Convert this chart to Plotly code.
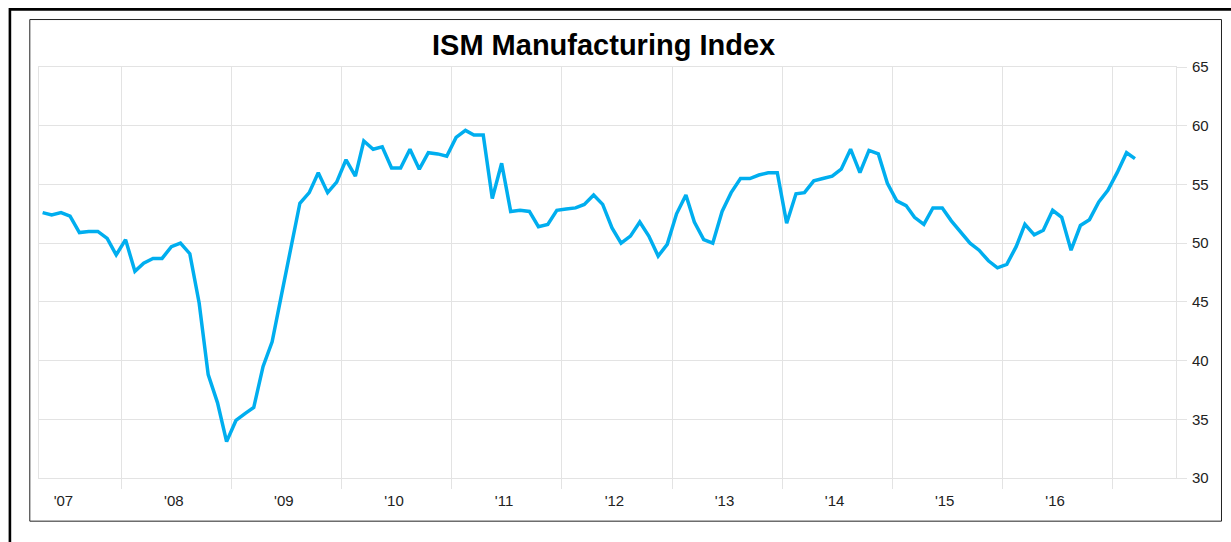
import plotly.graph_objects as go

# ---- data (monthly ISM Manufacturing Index, Apr 2007 - Mar 2017) ----
start_year = 2007
start_month = 4
ism_values = [
    # 2007 Apr-Dec
    52.6, 52.4, 52.6, 52.3, 50.9, 51.0, 51.0, 50.4, 49.0,
    # 2008
    50.3, 47.6, 48.3, 48.7, 48.7, 49.7, 50.0, 49.1, 44.9, 38.8, 36.4, 33.1,
    # 2009
    34.9, 35.5, 36.0, 39.5, 41.6, 45.6, 49.6, 53.4, 54.3, 56.0, 54.3, 55.2,
    # 2010
    57.1, 55.7, 58.7, 58.0, 58.2, 56.4, 56.4, 58.0, 56.3, 57.7, 57.6, 57.4,
    # 2011
    59.0, 59.6, 59.2, 59.2, 53.8, 56.8, 52.7, 52.8, 52.7, 51.4, 51.6, 52.8,
    # 2012
    52.9, 53.0, 53.3, 54.1, 53.3, 51.3, 50.0, 50.6, 51.8, 50.6, 48.9, 49.9,
    # 2013
    52.5, 54.1, 51.8, 50.3, 50.0, 52.7, 54.3, 55.5, 55.5, 55.8, 56.0, 56.0,
    # 2014
    51.7, 54.2, 54.3, 55.3, 55.5, 55.7, 56.3, 58.0, 56.0, 57.9, 57.6, 55.1,
    # 2015
    53.6, 53.2, 52.2, 51.6, 53.0, 53.0, 51.9, 50.9, 50.0, 49.4, 48.5, 47.9,
    # 2016
    48.2, 49.7, 51.6, 50.7, 51.1, 52.8, 52.2, 49.4, 51.5, 52.0, 53.5, 54.5,
    # 2017 Jan-Mar
    56.0, 57.7, 57.2,
]

# month dates (plotted mid-month)
dates = []
y, m = start_year, start_month
for _ in ism_values:
    dates.append(f"{y:04d}-{m:02d}-15")
    m += 1
    if m > 12:
        m = 1
        y += 1

year_labels = ["'07", "'08", "'09", "'10", "'11", "'12", "'13", "'14", "'15", "'16"]
label_years = list(range(2007, 2017))
grid_years = list(range(2008, 2018))
y_ticks = [30, 35, 40, 45, 50, 55, 60, 65]

title_text = "ISM Manufacturing Index"

# ---- layout geometry (pixels) ----
W, H = 1231, 542
L, R, T, B = 38.7, 55, 67, 63.7
pw = W - L - R
ph = H - T - B


def px(x):
    return (x - L) / pw


def py(yv):
    return (H - B - yv) / ph


GRID = "#e3e3e3"
FONT = "Liberation Sans, Arial, sans-serif"

fig = go.Figure()
fig.add_trace(go.Scatter(
    x=dates, y=ism_values, mode="lines",
    line=dict(color="#00AEEF", width=3.5),
    hoverinfo="x+y", showlegend=False,
))

fig.update_layout(
    width=W, height=H,
    margin=dict(l=L, r=R, t=T, b=B, pad=0),
    paper_bgcolor="white", plot_bgcolor="white",
    showlegend=False,
    font=dict(family=FONT, size=15, color="#222"),
    xaxis=dict(
        type="date",
        range=["2007-04-03", "2017-07-29"],
        tickmode="array",
        tickvals=[f"{yy}-06-23" for yy in label_years],
        ticktext=year_labels,
        ticks="",
        ticklabelstandoff=9,
        showgrid=False,
        zeroline=False,
        showline=True, linecolor=GRID, linewidth=1, mirror=True,
        tickfont=dict(family=FONT, size=15, color="#222"),
        minor=dict(
            tickmode="array",
            tickvals=[f"{yy}-01-01" for yy in grid_years],
            showgrid=True, gridcolor=GRID, gridwidth=1,
            ticks="outside", ticklen=10, tickcolor=GRID, tickwidth=1,
        ),
    ),
    yaxis=dict(
        side="right",
        range=[30, 65],
        tickmode="array",
        tickvals=y_ticks,
        showgrid=True, gridcolor=GRID, gridwidth=1,
        zeroline=False,
        ticks="outside", ticklen=10, tickcolor=GRID, tickwidth=1,
        ticklabelstandoff=2,
        showline=True, linecolor=GRID, linewidth=1, mirror=True,
        tickfont=dict(family=FONT, size=15, color="#222"),
    ),
    annotations=[dict(
        text=f"<b>{title_text}</b>",
        xref="paper", yref="paper",
        x=px(603.5), y=py(44.5),
        xanchor="center", yanchor="middle",
        showarrow=False,
        font=dict(family=FONT, size=29, color="#000"),
    )],
    shapes=[
        # outer thick frame
        dict(type="rect", xref="paper", yref="paper",
             x0=px(9.6), y0=py(9.3), x1=px(1250), y1=py(570),
             line=dict(color="black", width=2.6), fillcolor="rgba(0,0,0,0)",
             layer="above"),
        # inner thin frame
        dict(type="rect", xref="paper", yref="paper",
             x0=px(29.5), y0=py(19.5), x1=px(1221.5), y1=py(521.5),
             line=dict(color="#222", width=1), fillcolor="rgba(0,0,0,0)",
             layer="above"),
    ],
)

fig.write_html("out.html", config={"displayModeBar": False})
